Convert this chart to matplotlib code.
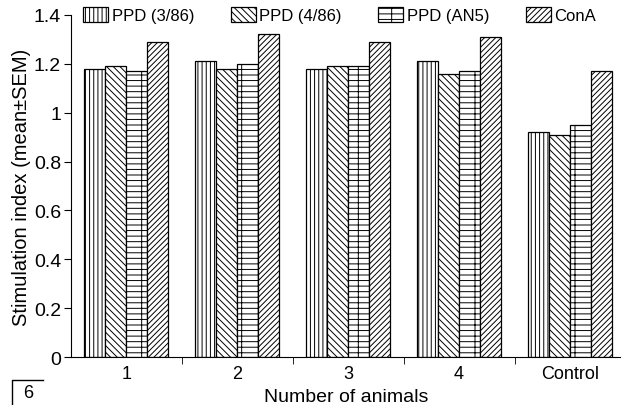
import numpy as np
import matplotlib
matplotlib.use("Agg")
import matplotlib.pyplot as plt
from matplotlib.ticker import FuncFormatter, FixedLocator

plt.rcParams['font.family'] = ['Liberation Sans', 'DejaVu Sans']
plt.rcParams['hatch.linewidth'] = 0.7

# data
groups = ["1", "2", "3", "4", "Control"]
series = ["PPD (3/86)", "PPD (4/86)", "PPD (AN5)", "ConA"]
ppd_3_86 = [1.18, 1.21, 1.18, 1.21, 0.92]
ppd_4_86 = [1.19, 1.18, 1.19, 1.16, 0.91]
ppd_an5 = [1.17, 1.20, 1.19, 1.17, 0.95]
cona = [1.29, 1.32, 1.29, 1.31, 1.17]
values = [ppd_3_86, ppd_4_86, ppd_an5, cona]
hatches = ["||||", "\\\\\\\\\\", "-+-", "//////"]

fig = plt.figure(figsize=(6.21, 4.06), dpi=100)
ax = fig.add_axes([0.114, 0.118, 0.886, 0.843])

x = np.arange(1, len(groups) + 1)
width = 0.19
for i, (vals, h) in enumerate(zip(values, hatches)):
    ax.bar(x + (i - 1.5) * width, vals, width, facecolor="white",
           edgecolor="black", hatch=h, linewidth=0.9, label=series[i])

ax.set_xlim(0.5, 5.46)
ax.set_ylim(0, 1.4)
ax.set_xticks(x)
ax.set_xticklabels(groups)
ax.xaxis.set_minor_locator(FixedLocator([1.5, 2.5, 3.5, 4.5]))
ax.tick_params(axis="x", which="major", length=0, labelsize=13, pad=6)
ax.tick_params(axis="x", which="minor", length=5, direction="out")
ax.set_yticks(np.arange(0, 1.41, 0.2))
ax.yaxis.set_major_formatter(FuncFormatter(lambda v, p: f"{v:g}"))
ax.tick_params(axis="y", labelsize=14, length=5, pad=2)

for s in ["top", "right"]:
    ax.spines[s].set_visible(False)

ax.set_ylabel("Stimulation index (mean±SEM)", fontsize=14.5, labelpad=2)
ax.set_xlabel("Number of animals", fontsize=14, labelpad=4)

fig.legend(loc="upper left", bbox_to_anchor=(0.118, 1.005), ncol=4,
           frameon=False, fontsize=12, handlelength=1.5, handleheight=1.0,
           handletextpad=0.2, columnspacing=2.2, borderaxespad=0.2)

# little figure-number marker in the corner
fig.add_artist(plt.Line2D([0.02, 0.02, 0.07], [0.0, 0.062, 0.062],
                          color="black", lw=1, transform=fig.transFigure))
fig.text(0.045, 0.032, "6", fontsize=13, ha="center", va="center")

fig.savefig("out.png", dpi=100)
